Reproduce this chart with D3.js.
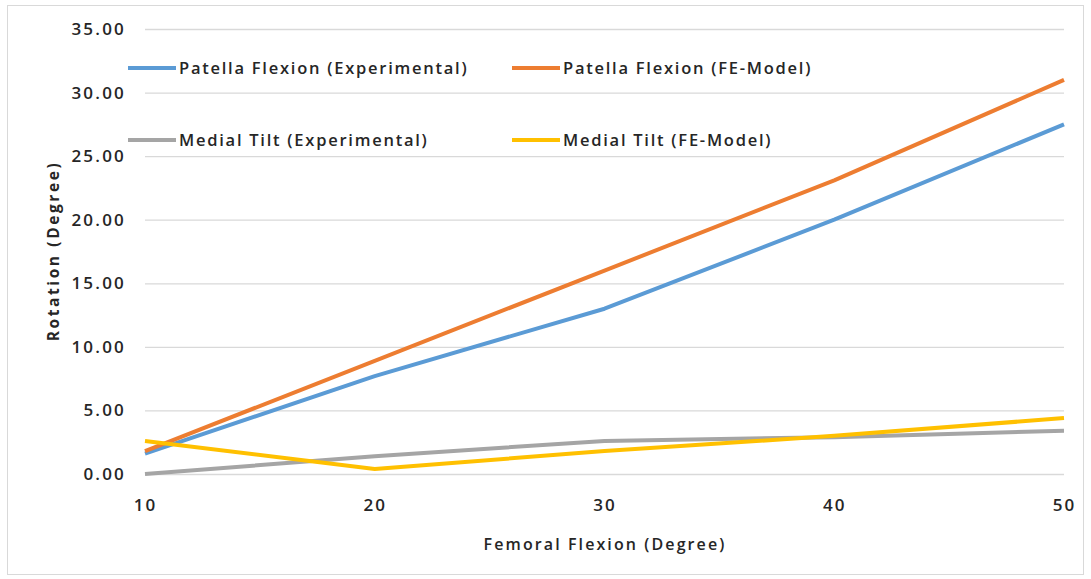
<!DOCTYPE html>
<html>
<head>
<meta charset="utf-8">
<script src="https://cdn.jsdelivr.net/npm/d3@7"></script>
<style>
  body { margin: 0; background: #fff; }
  text { font-family: "Open Sans", "Noto Sans", sans-serif; fill: #262626; }
</style>
</head>
<body>
<svg id="chart" width="1091" height="579"></svg>
<script>
// Femoral flexion angles (degrees)
const flexion = [10, 20, 30, 40, 50];
// Rotation values (degrees)
const patellaFlexionExp = [1.6, 7.7, 13.0, 20.0, 27.5];
const patellaFlexionFE  = [1.8, 8.9, 16.0, 23.1, 31.0];
const medialTiltExp     = [0.0, 1.4, 2.6, 2.9, 3.4];
const medialTiltFE      = [2.6, 0.4, 1.8, 3.0, 4.4];
const yTicks = [0, 5, 10, 15, 20, 25, 30, 35];

const seriesNames = ["Patella Flexion (Experimental)", "Patella Flexion (FE-Model)",
                     "Medial Tilt (Experimental)", "Medial Tilt (FE-Model)"];
const seriesColors = ["#5B9BD5", "#ED7D31", "#A5A5A5", "#FFC000"];
const seriesValues = [patellaFlexionExp, patellaFlexionFE, medialTiltExp, medialTiltFE];

const svg = d3.select("#chart");
const W = 1091, H = 579;
const margin = { left: 145, right: 27, top: 29, bottom: 105 };

// chart frame
svg.append("rect")
  .attr("x", 7.5).attr("y", 5.5)
  .attr("width", W - 15).attr("height", H - 10)
  .attr("fill", "#fff").attr("stroke", "#d9d9d9").attr("stroke-width", 1);

const x = d3.scaleLinear().domain([10, 50]).range([margin.left, W - margin.right]);
const y = d3.scaleLinear().domain([0, 35]).range([H - margin.bottom, margin.top]);

// horizontal gridlines
svg.append("g")
  .selectAll("line").data(yTicks).join("line")
  .attr("x1", x(10)).attr("x2", x(50))
  .attr("y1", d => y(d) + 0.5).attr("y2", d => y(d) + 0.5)
  .attr("stroke", "#d9d9d9").attr("stroke-width", 1.3);

// y axis tick labels
const yAxis = d3.axisLeft(y).tickValues(yTicks).tickFormat(d3.format(".2f")).tickSize(0).tickPadding(19);
const gy = svg.append("g").attr("transform", `translate(${x(10)},0)`).call(yAxis);
gy.select(".domain").remove();
gy.selectAll("text")
  .style("font-size", "17px").style("font-weight", "600").style("letter-spacing", "2.2px")
  .attr("fill", "#262626");

// x axis tick labels
const xAxis = d3.axisBottom(x).tickValues(flexion).tickFormat(d3.format("d")).tickSize(0).tickPadding(25);
const gx = svg.append("g").attr("transform", `translate(0,${y(0)})`).call(xAxis);
gx.select(".domain").remove();
gx.selectAll("text")
  .style("font-size", "17px").style("font-weight", "600").style("letter-spacing", "2px")
  .attr("fill", "#262626");

// axis titles
svg.append("text")
  .attr("x", 605).attr("y", 550)
  .attr("text-anchor", "middle")
  .style("font-size", "16px").style("font-weight", "600").style("letter-spacing", "2.1px")
  .text("Femoral Flexion (Degree)");

svg.append("text")
  .attr("transform", "translate(59,251) rotate(-90)")
  .attr("text-anchor", "middle")
  .style("font-size", "15.5px").style("font-weight", "700").style("letter-spacing", "2.6px")
  .text("Rotation (Degree)");

// series lines
const line = d3.line()
  .x((d, i) => x(flexion[i]))
  .y(d => y(d));

svg.append("g")
  .selectAll("path").data(seriesValues).join("path")
  .attr("d", d => line(d))
  .attr("fill", "none")
  .attr("stroke", (d, i) => seriesColors[i])
  .attr("stroke-width", 4)
  .attr("stroke-linejoin", "round")
  .attr("stroke-linecap", "butt");

// legend, two columns by two rows
const legendPos = [[128, 68], [512, 68], [128, 140], [512, 140]];
const legend = svg.append("g")
  .selectAll("g").data(seriesNames).join("g")
  .attr("transform", (d, i) => `translate(${legendPos[i][0]},${legendPos[i][1]})`);

legend.append("line")
  .attr("x1", 0).attr("x2", 48).attr("y1", 0).attr("y2", 0)
  .attr("stroke", (d, i) => seriesColors[i])
  .attr("stroke-width", 4);

legend.append("text")
  .attr("x", 51).attr("y", 6)
  .style("font-size", "16.5px").style("font-weight", "600").style("letter-spacing", "1.75px")
  .text(d => d);
</script>
</body>
</html>
